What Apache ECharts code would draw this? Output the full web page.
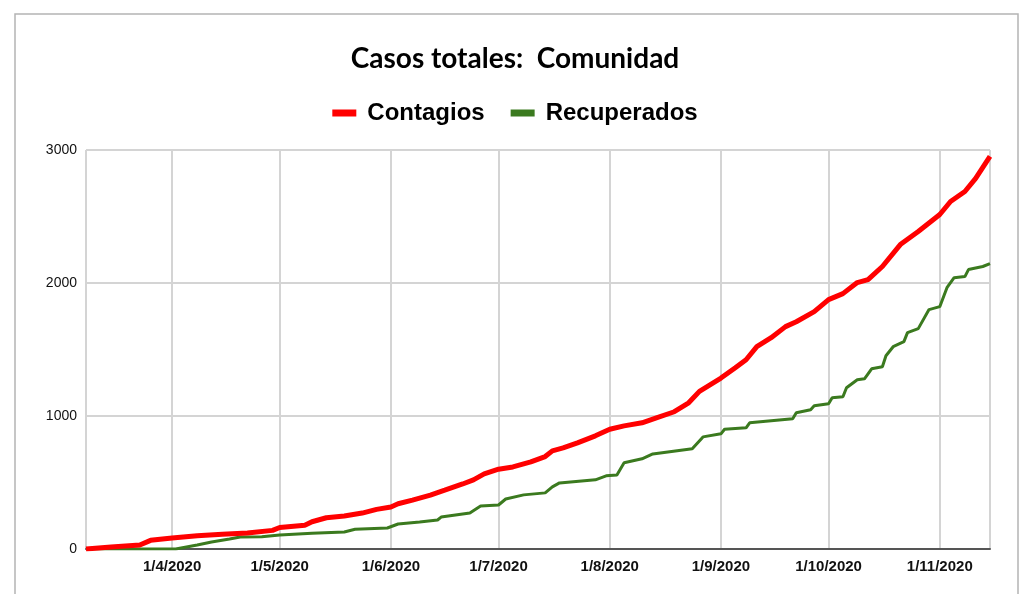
<!DOCTYPE html>
<html>
<head>
<meta charset="utf-8">
<title>Casos totales: Comunidad</title>
<script src="https://cdn.jsdelivr.net/npm/echarts@6/dist/echarts.min.js"></script>
<style>
  html, body { margin: 0; padding: 0; background: #fff; }
  #chart { width: 1030px; height: 594px; }
</style>
</head>
<body>
<div id="chart"></div>
<script>
// Data
const seriesNames = ['Contagios', 'Recuperados']

const contagiosDates = [
  '2020-03-08', '2020-03-15', '2020-03-23', '2020-03-26', '2020-04-01', '2020-04-08',
  '2020-04-15', '2020-04-22', '2020-04-29', '2020-05-01', '2020-05-08', '2020-05-10',
  '2020-05-14', '2020-05-19', '2020-05-24', '2020-05-28', '2020-06-01', '2020-06-03',
  '2020-06-07', '2020-06-12', '2020-06-16', '2020-06-21', '2020-06-24', '2020-06-27',
  '2020-07-01', '2020-07-05', '2020-07-10', '2020-07-14', '2020-07-16', '2020-07-19',
  '2020-07-23', '2020-07-28', '2020-08-01', '2020-08-05', '2020-08-10', '2020-08-14',
  '2020-08-19', '2020-08-23', '2020-08-26', '2020-09-01', '2020-09-05', '2020-09-08',
  '2020-09-11', '2020-09-15', '2020-09-19', '2020-09-22', '2020-09-27', '2020-10-01',
  '2020-10-05', '2020-10-09', '2020-10-12', '2020-10-16', '2020-10-21', '2020-10-26',
  '2020-11-01', '2020-11-04', '2020-11-08', '2020-11-11', '2020-11-13', '2020-11-15'
]
const contagiosValues = [
  0, 15, 30, 65, 83, 100,
  110, 120, 140, 162, 178, 205,
  235, 248, 270, 298, 316, 340,
  368, 405, 442, 489, 520, 565,
  600, 617, 655, 695, 738, 760,
  798, 851, 900, 926, 949, 986,
  1032, 1099, 1185, 1285, 1363, 1423,
  1521, 1589, 1672, 1709, 1785, 1875,
  1920, 2003, 2025, 2124, 2289, 2387,
  2515, 2613, 2688, 2786, 2869, 2952
]

const recuperadosDates = [
  '2020-03-08', '2020-04-02', '2020-04-08', '2020-04-12', '2020-04-17', '2020-04-20',
  '2020-04-26', '2020-05-01', '2020-05-10', '2020-05-19', '2020-05-22', '2020-05-31',
  '2020-06-03', '2020-06-09', '2020-06-14', '2020-06-15', '2020-06-23', '2020-06-26',
  '2020-07-01', '2020-07-03', '2020-07-08', '2020-07-14', '2020-07-16', '2020-07-18',
  '2020-07-28', '2020-07-31', '2020-08-03', '2020-08-05', '2020-08-10', '2020-08-13',
  '2020-08-24', '2020-08-27', '2020-09-01', '2020-09-02', '2020-09-08', '2020-09-09',
  '2020-09-21', '2020-09-22', '2020-09-26', '2020-09-27', '2020-10-01', '2020-10-02',
  '2020-10-05', '2020-10-06', '2020-10-09', '2020-10-11', '2020-10-13', '2020-10-16',
  '2020-10-17', '2020-10-19', '2020-10-22', '2020-10-23', '2020-10-26', '2020-10-29',
  '2020-11-01', '2020-11-03', '2020-11-05', '2020-11-08', '2020-11-09', '2020-11-13',
  '2020-11-15'
]
const recuperadosValues = [
  0, 0, 30, 53, 75, 90,
  92, 105, 118, 128, 148, 158,
  188, 203, 218, 240, 271, 324,
  331, 376, 407, 422, 467, 497,
  520, 550, 557, 648, 678, 715,
  753, 843, 866, 900, 911, 949,
  979, 1024, 1047, 1077, 1092, 1137,
  1145, 1212, 1273, 1280, 1355, 1370,
  1453, 1521, 1559, 1627, 1657, 1800,
  1822, 1965, 2040, 2048, 2101, 2124,
  2146
]

const yTicks = [0, 1000, 2000, 3000]

const zip = (dates, values) => dates.map((d, i) => [d, values[i]])

const chart = echarts.init(document.getElementById('chart'), null, { renderer: 'canvas' })

const option = {
  backgroundColor: '#fff',
  animation: false,
  title: {
    text: 'Casos totales:  Comunidad',
    left: 'center',
    top: 40,
    textStyle: {
      fontFamily: 'Lato',
      fontWeight: 'bold',
      fontSize: 28,
      color: '#000'
    }
  },
  legend: {
    data: seriesNames,
    top: 96,
    left: 'center',
    icon: 'rect',
    itemWidth: 24,
    itemHeight: 7,
    itemGap: 26,
    textStyle: {
      fontFamily: 'Liberation Sans',
      fontWeight: 'bold',
      fontSize: 24,
      color: '#000',
      padding: [0, 0, 0, 6]
    }
  },
  grid: {
    left: 86,
    right: 40,
    top: 150,
    bottom: 45
  },
  xAxis: {
    type: 'time',
    min: '2020-03-08',
    max: '2020-11-15',
    splitNumber: 8,
    axisLine: { lineStyle: { color: '#555', width: 2 } },
    axisTick: { show: false },
    splitLine: { show: true, lineStyle: { color: '#d4d4d4', width: 2 } },
    axisLabel: {
      showMinLabel: false,
      showMaxLabel: false,
      margin: 10,
      fontFamily: 'Liberation Sans',
      fontWeight: 'bold',
      fontSize: 15,
      color: '#111',
      formatter: (val) => {
        const d = new Date(val)
        return d.getDate() + '/' + (d.getMonth() + 1) + '/' + d.getFullYear()
      }
    }
  },
  yAxis: {
    type: 'value',
    min: yTicks[0],
    max: yTicks[yTicks.length - 1],
    interval: 1000,
    axisLine: { show: false },
    axisTick: { show: false },
    splitLine: { lineStyle: { color: '#d4d4d4', width: 2 } },
    axisLabel: {
      margin: 9,
      fontFamily: 'Liberation Sans',
      fontSize: 14,
      color: '#111',
      formatter: (v) => String(v)
    }
  },
  series: [
    {
      name: seriesNames[0],
      type: 'line',
      data: zip(contagiosDates, contagiosValues),
      showSymbol: false,
      smooth: false,
      lineStyle: { color: '#ff0000', width: 5 },
      itemStyle: { color: '#ff0000' },
      z: 3
    },
    {
      name: seriesNames[1],
      type: 'line',
      data: zip(recuperadosDates, recuperadosValues),
      showSymbol: false,
      smooth: false,
      lineStyle: { color: '#3b7a1f', width: 3 },
      itemStyle: { color: '#3b7a1f' },
      z: 2
    }
  ],
  graphic: [
    {
      type: 'rect',
      shape: { x: 15, y: 14, width: 1003, height: 600 },
      style: { fill: null, stroke: '#b4b4b4', lineWidth: 1.5 },
      silent: true
    }
  ]
}

chart.setOption(option)
</script>
</body>
</html>
